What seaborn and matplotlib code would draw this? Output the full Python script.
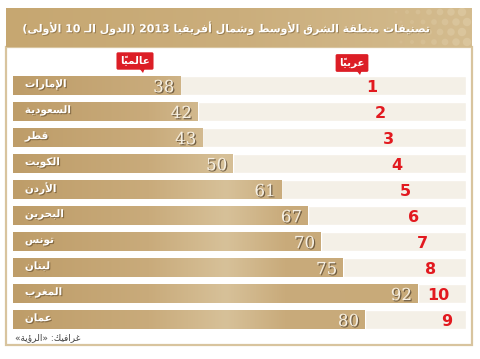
import re
import numpy as np
import pandas as pd
import seaborn as sns
from matplotlib import pyplot as plt
from matplotlib import patheffects as pe
from matplotlib.colors import LinearSegmentedColormap
from matplotlib.patches import Rectangle, Polygon, Circle

# MENA ranking 2013, top 10 Arab countries
countries = ['الإمارات', 'السعودية', 'قطر', 'الكويت', 'الأردن',
             'البحرين', 'تونس', 'لبنان', 'المغرب', 'عمان']
global_rank = [38, 42, 43, 50, 61, 67, 70, 75, 92, 80]
arab_rank = [1, 2, 3, 4, 5, 6, 7, 8, 10, 9]

title = 'تصنيفات منطقة الشرق الأوسط وشمال أفريقيا 2013 (الدول الـ 10 الأولى)'
label_global = 'عالمياً'
label_arab = 'عربياً'
credit = 'غرافيك: «الرؤية»'

df = pd.DataFrame({'country': countries, 'world': global_rank, 'arab': arab_rank})

#Small arabic shaper, matplotlib does not join letters or do RTL
dual = {'ئ': 0xFE89, 'ب': 0xFE8F, 'ت': 0xFE95, 'ث': 0xFE99, 'ج': 0xFE9D, 'ح': 0xFEA1,
        'خ': 0xFEA5, 'س': 0xFEB1, 'ش': 0xFEB5, 'ص': 0xFEB9, 'ض': 0xFEBD, 'ط': 0xFEC1,
        'ظ': 0xFEC5, 'ع': 0xFEC9, 'غ': 0xFECD, 'ف': 0xFED1, 'ق': 0xFED5, 'ك': 0xFED9,
        'ل': 0xFEDD, 'م': 0xFEE1, 'ن': 0xFEE5, 'ه': 0xFEE9, 'ي': 0xFEF1}
right = {'آ': 0xFE81, 'أ': 0xFE83, 'ؤ': 0xFE85, 'إ': 0xFE87, 'ا': 0xFE8D, 'ة': 0xFE93,
         'د': 0xFEA9, 'ذ': 0xFEAB, 'ر': 0xFEAD, 'ز': 0xFEAF, 'و': 0xFEED, 'ى': 0xFEEF}
lamalef = {'آ': 0xFEF5, 'أ': 0xFEF7, 'إ': 0xFEF9, 'ا': 0xFEFB}
marks = set(chr(c) for c in range(0x064B, 0x0653))
mirror = {'(': ')', ')': '(', '«': '»', '»': '«'}


def joins_next(c):
    return c in dual or c == 'ـ'


def joins_prev(c):
    return c in dual or c in right or c == 'ـ'


def shape(s):
    res = []
    prev = None
    i = 0
    while i < len(s):
        c = s[i]
        if c in marks:
            res.append(c)
            i += 1
            continue
        j = i + 1
        while j < len(s) and s[j] in marks:
            j += 1
        nxt = s[j] if j < len(s) else None
        p_join = prev is not None and joins_next(prev)
        if c == 'ل' and nxt in lamalef:
            res.append(chr(lamalef[nxt] + (1 if p_join else 0)))
            res.extend(s[i + 1:j])
            prev = 'ا'
            i = j + 1
            continue
        if c in dual:
            n_join = nxt is not None and joins_prev(nxt)
            base = dual[c]
            if p_join and n_join:
                res.append(chr(base + 3))
            elif p_join:
                res.append(chr(base + 1))
            elif n_join:
                res.append(chr(base + 2))
            else:
                res.append(chr(base))
        elif c in right:
            res.append(chr(right[c] + (1 if p_join else 0)))
        else:
            res.append(c)
        prev = c
        i += 1
    return ''.join(res)


def ar(s):
    tokens = re.findall(r'[0-9]+|.[\u064B-\u0652]*', shape(s))
    tokens = [mirror.get(t, t) for t in tokens]
    return ''.join(reversed(tokens))


sns.set_style('white')
plt.rcParams['font.family'] = ['DejaVu Sans']

fig = plt.figure(figsize=(4.8, 3.59), dpi=100)
W, H = 480, 359


def fx(px):
    return px / W


def fy(py):
    return 1 - py / H


#white panel with gold frame
fig.patches.append(Rectangle((fx(6), fy(345)), fx(472) - fx(6), fy(47) - fy(345),
                             transform=fig.transFigure, fc='white', ec='#d8c49e', lw=1.6, zorder=-5))

#title banner with gradient and dots
bax = fig.add_axes([fx(6), fy(47), fx(472) - fx(6), fy(8) - fy(47)])
banner_cmap = LinearSegmentedColormap.from_list('banner', ['#c6a771', '#cbae7c', '#d4bc8f'])
bax.imshow(np.linspace(0, 1, 256).reshape(1, -1), extent=(0, 466, 0, 39), aspect='auto', cmap=banner_cmap)
for col in range(7):
    for row in range(4):
        cx = 466 - 5 - col * 11 - (row % 2) * 5
        cy = 5 + row * 10
        r = 4.2 - col * 0.45
        if r > 0.6:
            bax.add_patch(Circle((cx, cy), r, fc='#ddc9a2', ec='none', alpha=0.75 - col * 0.08))
bax.set_xlim(0, 466)
bax.set_ylim(0, 39)
bax.axis('off')
fig.text(fx(431), fy(28), ar(title), ha='right', va='center', color='white',
         fontsize=7.9, fontweight='bold',
         path_effects=[pe.withSimplePatchShadow(offset=(0.7, -0.7), shadow_rgbFace='#7a6038', alpha=0.6)])

#bars
xmax = 103
ax = fig.add_axes([fx(13), fy(332.5), fx(466) - fx(13), fy(72.5) - fy(332.5)])
sns.barplot(data=df, x='world', y='country', color='#c8aa78', width=0.73, ax=ax, zorder=2)
bars = list(ax.patches)
ax.barh(np.arange(len(df)), [xmax] * len(df), height=0.73, color='#f4f0e7', zorder=1)

bar_cmap = LinearSegmentedColormap.from_list(
    'bar', [(0, '#be9d69'), (0.3, '#c9ab7b'), (0.47, '#d7c199'), (0.6, '#c9ab7b'), (1, '#c8aa78')])
for b in bars:
    b.set_facecolor('none')
    im = ax.imshow(np.linspace(0, 1, 256).reshape(1, -1), extent=(0, xmax, len(df) - 0.5, -0.5),
                   aspect='auto', cmap=bar_cmap, zorder=2)
    im.set_clip_path(b)

ax.set_xlim(0, xmax)
ax.set_ylim(len(df) - 0.5, -0.5)
ax.axis('off')

name_fx = [pe.withSimplePatchShadow(offset=(0.8, -0.8), shadow_rgbFace='#6d5532', alpha=0.7)]
num_fx = [pe.withSimplePatchShadow(offset=(0.9, -0.9), shadow_rgbFace='#5a4a35', alpha=0.8)]
for i, row in df.iterrows():
    ax.text(2.7, i - 0.05, ar(row['country']), ha='left', va='center', color='white',
            fontsize=7.5, fontweight='bold', path_effects=name_fx, zorder=4)
    ax.text(row['world'] - 1.3, i + 0.08, str(row['world']), ha='right', va='center',
            color='#f6f0e4', fontsize=12, family=['DejaVu Serif'], path_effects=num_fx, zorder=4)
    ax.text(81.6 + 1.9 * i, i + 0.08, str(row['arab']), ha='center', va='center',
            color='#e2191f', fontsize=11.5, fontweight='bold',
            family=['Liberation Sans Narrow', 'DejaVu Sans'], zorder=4)

#red tags
for txt, cx, cy, tip in [(label_global, 135, 61, 143), (label_arab, 352, 63, 360)]:
    fig.text(fx(cx), fy(cy), ar(txt), ha='center', va='center', color='white',
             fontsize=7.5, fontweight='bold',
             bbox=dict(boxstyle='round,pad=0.35,rounding_size=0.15', fc='#dc1e26', ec='none'))
    fig.patches.append(Polygon([(fx(tip - 4), fy(cy + 7)), (fx(tip + 2), fy(cy + 7)), (fx(tip), fy(cy + 12))],
                               closed=True, transform=fig.transFigure, fc='#dc1e26', ec='none', zorder=3))

fig.text(fx(15), fy(338), ar(credit), ha='left', va='center', color='#444444', fontsize=6.5)

plt.savefig('out.png', dpi=100)
